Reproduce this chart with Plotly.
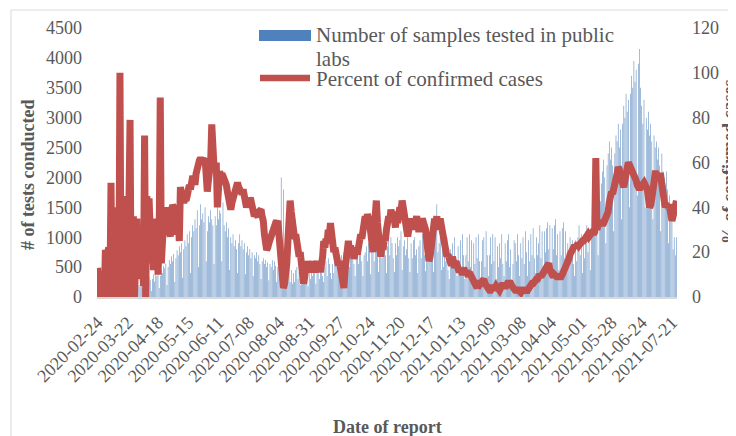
import pandas as pd
import plotly.graph_objects as go

start_date = "2020-02-24"

# Number of samples tested in public labs (daily, weeks of 7 days)
tests = [
    0, 0, 0, 0, 0, 0, 0,
    0, 0, 0, 0, 0, 0, 0,
    0, 5, 0, 10, 0, 15, 20,
    40, 30, 60, 50, 80, 60, 20,
    90, 120, 80, 150, 110, 140, 50,
    160, 130, 200, 180, 240, 150, 60,
    250, 200, 300, 260, 340, 280, 100,
    300, 380, 260, 420, 350, 400, 150,
    350, 450, 400, 520, 480, 560, 200,
    500, 620, 550, 680, 600, 720, 250,
    650, 780, 700, 850, 750, 900, 320,
    800, 950, 850, 1050, 900, 1100, 400,
    1000, 1200, 1100, 1300, 1150, 1450, 500,
    1200, 1550, 1300, 1400, 1250, 1500, 600,
    1100, 1350, 1250, 1450, 1300, 1200, 550,
    1350, 1200, 1550, 1300, 1450, 1400, 600,
    1580, 1200, 1100, 1250, 1000, 1150, 450,
    1000, 900, 1050, 850, 950, 800, 400,
    900, 1050, 850, 950, 800, 900, 380,
    750, 850, 700, 800, 650, 750, 350,
    700, 650, 750, 600, 700, 550, 300,
    600, 650, 550, 620, 500, 580, 280,
    550, 500, 620, 450, 600, 520, 250,
    500, 600, 450, 2000, 550, 1800, 300,
    450, 300, 400, 550, 250, 450, 220,
    400, 250, 450, 500, 300, 420, 200,
    350, 400, 250, 450, 500, 300, 180,
    420, 300, 500, 350, 450, 600, 220,
    450, 500, 300, 550, 480, 350, 250,
    500, 600, 350, 650, 550, 400, 300,
    550, 400, 650, 600, 700, 450, 280,
    600, 700, 450, 750, 650, 500, 320,
    650, 500, 700, 800, 750, 550, 350,
    700, 750, 550, 800, 750, 600, 350,
    700, 750, 850, 600, 900, 780, 380,
    800, 850, 600, 900, 850, 950, 420,
    800, 900, 650, 950, 850, 700, 400,
    850, 950, 700, 1000, 900, 650, 420,
    900, 700, 1000, 850, 950, 1100, 450,
    850, 950, 700, 800, 1000, 650, 420,
    900, 650, 950, 1000, 700, 800, 400,
    850, 950, 650, 1050, 950, 700, 430,
    800, 900, 650, 950, 1000, 700, 420,
    1000, 1100, 1550, 750, 900, 1000, 450,
    850, 500, 950, 600, 1000, 450, 300,
    800, 550, 900, 650, 1000, 500, 350,
    850, 600, 950, 500, 1050, 700, 300,
    700, 1000, 600, 1050, 500, 950, 350,
    900, 550, 1000, 650, 1050, 600, 300,
    600, 950, 1000, 500, 1100, 700, 350,
    700, 1000, 550, 1050, 600, 1000, 300,
    850, 500, 900, 650, 1050, 550, 350,
    900, 600, 950, 1050, 500, 800, 300,
    550, 950, 900, 600, 1050, 700, 350,
    900, 650, 1000, 550, 1100, 750, 350,
    950, 600, 1050, 700, 1150, 650, 400,
    1000, 700, 900, 1200, 650, 1100, 400,
    1100, 750, 1150, 1250, 800, 1200, 450,
    1150, 800, 1200, 1300, 700, 1050, 450,
    1100, 700, 1150, 1250, 650, 1100, 400,
    900, 500, 1000, 600, 950, 550, 350,
    950, 600, 1000, 1200, 700, 1050, 400,
    1000, 650, 1100, 1200, 750, 1100, 450,
    1100, 1300, 1200, 1450, 1350, 1500, 700,
    1400, 1600, 1900, 2100, 2300, 2000, 900,
    2200, 2400, 2600, 2300, 2500, 2200, 1100,
    2400, 2700, 2600, 2900, 2500, 2800, 1300,
    2900, 3200, 3000, 3400, 3100, 3300, 1500,
    3400, 3700, 3500, 3950, 3600, 3800, 1700,
    3900, 4150, 3500, 3200, 2900, 3300, 1500,
    3000, 2800, 3100, 2700, 2900, 2600, 1300,
    2700, 2500, 2600, 2300, 2500, 2200, 1100,
    2400, 2100, 2000, 1900, 2100, 1800, 900,
    1700, 1500, 1300, 800, 1000, 700, 1000,
]

# Percent of confirmed cases (daily, weeks of 7 days)
percent = [
    13, 0, 0, 0, 0, 0, 0,
    21, 0, 20, 22, 0, 51, 0,
    20, 0, 28, 10, 40, 0, 100,
    0, 35, 40, 5, 38, 45, 0,
    30, 79, 0, 35, 36, 0, 30,
    35, 10, 31, 8, 30, 25, 5,
    72, 0, 45, 20, 44, 35, 15,
    28, 12, 35, 20, 30, 10, 25,
    89, 15, 28, 35, 32, 40, 33,
    30, 28, 27, 38, 41, 40, 33,
    30, 28, 35, 25, 49, 45, 44,
    42, 44, 43, 45, 48, 50, 48,
    52, 54, 53, 50, 55, 58, 60,
    61, 62, 61, 62, 60, 62, 47,
    47, 52, 58, 60, 77, 61, 58,
    57, 60, 40, 55, 56, 54, 55,
    54, 53, 52, 50, 47, 45, 42,
    39, 42, 44, 46, 48, 50, 51,
    49, 47, 48, 46, 48, 45, 44,
    40, 42, 44, 43, 43, 40, 36,
    36, 37, 36, 36, 38, 39, 39,
    36, 34, 28, 24, 21, 22, 24,
    26, 27, 28, 30, 32, 33, 33,
    34, 28, 20, 12, 8, 4, 6,
    10, 15, 25, 35, 43, 38, 32,
    30, 26, 28, 22, 24, 18, 20,
    16, 10, 6, 9, 14, 12, 16,
    14, 11, 16, 12, 15, 11, 14,
    16, 12, 15, 11, 14, 18, 25,
    22, 26, 24, 30, 27, 33, 28,
    25, 20, 22, 17, 19, 14, 16,
    13, 10, 6, 4, 12, 18, 24,
    25, 20, 23, 19, 22, 17, 19,
    22, 19, 24, 22, 28, 26, 31,
    32, 36, 33, 37, 35, 33, 28,
    24, 20, 30, 38, 43, 33, 25,
    22, 18, 23, 21, 26, 25, 30,
    32, 36, 34, 39, 36, 38, 35,
    31, 36, 33, 37, 40, 38, 43,
    40, 35, 32, 29, 27, 30, 31,
    35, 31, 34, 30, 34, 36, 33,
    29, 32, 31, 35, 33, 34, 30,
    25, 20, 16, 18, 24, 30, 34,
    35, 32, 36, 30, 34, 35, 32,
    28, 25, 21, 22, 18, 19, 16,
    17, 14, 18, 15, 13, 16, 13,
    14, 11, 13, 12, 10, 13, 11,
    10, 12, 9, 11, 10, 9, 8,
    7, 6, 5, 4, 6, 7, 6,
    7, 8, 8, 6, 5, 4, 3,
    3, 3, 4, 5, 4, 4, 5,
    4, 4, 3, 4, 5, 6, 5,
    4, 5, 6, 7, 6, 6, 5,
    4, 4, 3, 3, 4, 3, 2,
    2, 3, 3, 4, 3, 2, 3,
    4, 4, 5, 6, 6, 7, 7,
    8, 8, 9, 10, 9, 10, 11,
    11, 12, 13, 15, 15, 12, 10,
    9, 9, 10, 9, 9, 9, 10,
    9, 9, 10, 11, 12, 13, 14,
    15, 17, 19, 20, 22, 22, 23,
    22, 23, 24, 23, 24, 25, 25,
    25, 26, 27, 27, 28, 27, 28,
    28, 29, 28, 29, 62, 30, 32,
    33, 34, 33, 32, 33, 34, 35,
    36, 38, 42, 45, 47, 46, 48,
    48, 52, 55, 58, 57, 54, 52,
    50, 49, 52, 56, 58, 60, 59,
    58, 57, 55, 54, 53, 52, 50,
    48, 48, 49, 50, 51, 51, 50,
    49, 48, 44, 40, 41, 44, 50,
    53, 55, 55, 54, 53, 54, 54,
    50, 44, 40, 40, 41, 40, 40,
    40, 38, 34, 36, 38, 42, 43,
]

tick_labels = [
    "2020-02-24", "2020-03-22", "2020-04-18", "2020-05-15", "2020-06-11",
    "2020-07-08", "2020-08-04", "2020-08-31", "2020-09-27", "2020-10-24",
    "2020-11-20", "2020-12-17", "2021-01-13", "2021-02-09", "2021-03-08",
    "2021-04-04", "2021-05-01", "2021-05-28", "2021-06-24", "2021-07-21",
]

series_names = ["Number of samples tested in public labs", "Percent of confirmed cases"]

dates = pd.date_range(start_date, periods=len(tests), freq="D")

# The page body has an 8px default margin, so the figure is 8px smaller
# and all target positions (window pixels) are shifted by OFF.
OFF = 8
W, H = 736 - OFF, 436 - OFF
PLOT_L, PLOT_R, PLOT_T, PLOT_B = 97, 677, 28, 297  # window pixels
L, T = PLOT_L - OFF, PLOT_T - OFF
R, B = W - (PLOT_R - OFF), H - (PLOT_B - OFF)
PW, PH = PLOT_R - PLOT_L, PLOT_B - PLOT_T


def px(x):
    return (x - PLOT_L) / PW


def py(y):
    return (PLOT_B - y) / PH


FONT = "Liberation Serif, Times New Roman, serif"
GREY = "#595959"
BLUE = "#4f81bd"
RED = "#c0504d"

fig = go.Figure()
fig.add_trace(go.Bar(
    x=dates, y=tests, name=series_names[0],
    marker=dict(color="rgba(79,129,189,0.95)", line=dict(width=0)),
    width=0.5 * 86400000, yaxis="y",
))
fig.add_trace(go.Scatter(
    x=dates[:len(percent)], y=percent, name=series_names[1], mode="lines",
    line=dict(color=RED, width=7), yaxis="y2",
))

x0 = dates[0] - pd.Timedelta(hours=12)
x1 = dates[-1] + pd.Timedelta(hours=12)

fig.update_layout(
    width=W, height=H,
    margin=dict(l=L, r=R, t=T, b=B, autoexpand=False),
    paper_bgcolor="white", plot_bgcolor="white",
    showlegend=False,
    bargap=0.3,
    font=dict(family=FONT, size=18, color=GREY),
    xaxis=dict(
        type="date", range=[x0, x1], automargin=False,
        tickvals=tick_labels, ticktext=tick_labels, tickangle=-45,
        tickfont=dict(family=FONT, size=18, color=GREY),
        showgrid=False, zeroline=False,
        showline=True, linecolor="#d9d9d9", linewidth=2,
        ticks="", ticklabelstandoff=6,
    ),
    yaxis=dict(
        range=[0, 4500], dtick=500, showgrid=False, zeroline=False,
        tickfont=dict(family=FONT, size=18, color=GREY), automargin=False,
        ticks="", ticklabelstandoff=14, showline=False,
    ),
    yaxis2=dict(
        range=[0, 120], dtick=20, overlaying="y", side="right",
        showgrid=False, zeroline=False, automargin=False,
        tickfont=dict(family=FONT, size=18, color=GREY),
        ticks="", ticklabelstandoff=14, showline=False,
    ),
)

shapes = [
    # outer chart border
    dict(type="rect", xref="paper", yref="paper",
         x0=px(11), x1=px(760), y0=py(460), y1=py(10),
         line=dict(color="#d9d9d9", width=1), fillcolor="rgba(0,0,0,0)", layer="below"),
    # legend symbols
    dict(type="rect", xref="paper", yref="paper",
         x0=px(259), x1=px(311), y0=py(41), y1=py(30),
         line=dict(width=0), fillcolor=BLUE),
    dict(type="line", xref="paper", yref="paper",
         x0=px(260), x1=px(310), y0=py(78), y1=py(78),
         line=dict(color=RED, width=6.5)),
]

annotations = [
    dict(text=series_names[0].rsplit(" ", 1)[0], xref="paper", yref="paper",
         x=px(314), y=py(35), xanchor="left", yanchor="middle", showarrow=False,
         font=dict(family=FONT, size=21, color=GREY)),
    dict(text=series_names[0].rsplit(" ", 1)[1], xref="paper", yref="paper",
         x=px(314), y=py(59), xanchor="left", yanchor="middle", showarrow=False,
         font=dict(family=FONT, size=21, color=GREY)),
    dict(text=series_names[1], xref="paper", yref="paper",
         x=px(314), y=py(79), xanchor="left", yanchor="middle", showarrow=False,
         font=dict(family=FONT, size=21, color=GREY)),
    dict(text="<b>Date of report</b>", xref="paper", yref="paper",
         x=px(388), y=py(427), xanchor="center", yanchor="middle", showarrow=False,
         font=dict(family=FONT, size=18, color=GREY)),
    dict(text="<b># of tests conducted</b>", xref="paper", yref="paper",
         x=px(28), y=py(175), xanchor="center", yanchor="middle", showarrow=False,
         textangle=-90, font=dict(family=FONT, size=18, color=GREY)),
    dict(text="<b>% of confirmed cases</b>", xref="paper", yref="paper",
         x=px(729), y=py(162), xanchor="center", yanchor="middle", showarrow=False,
         textangle=-90, font=dict(family=FONT, size=18, color=GREY)),
]

fig.update_layout(shapes=shapes, annotations=annotations)
fig.write_html("out.html")
